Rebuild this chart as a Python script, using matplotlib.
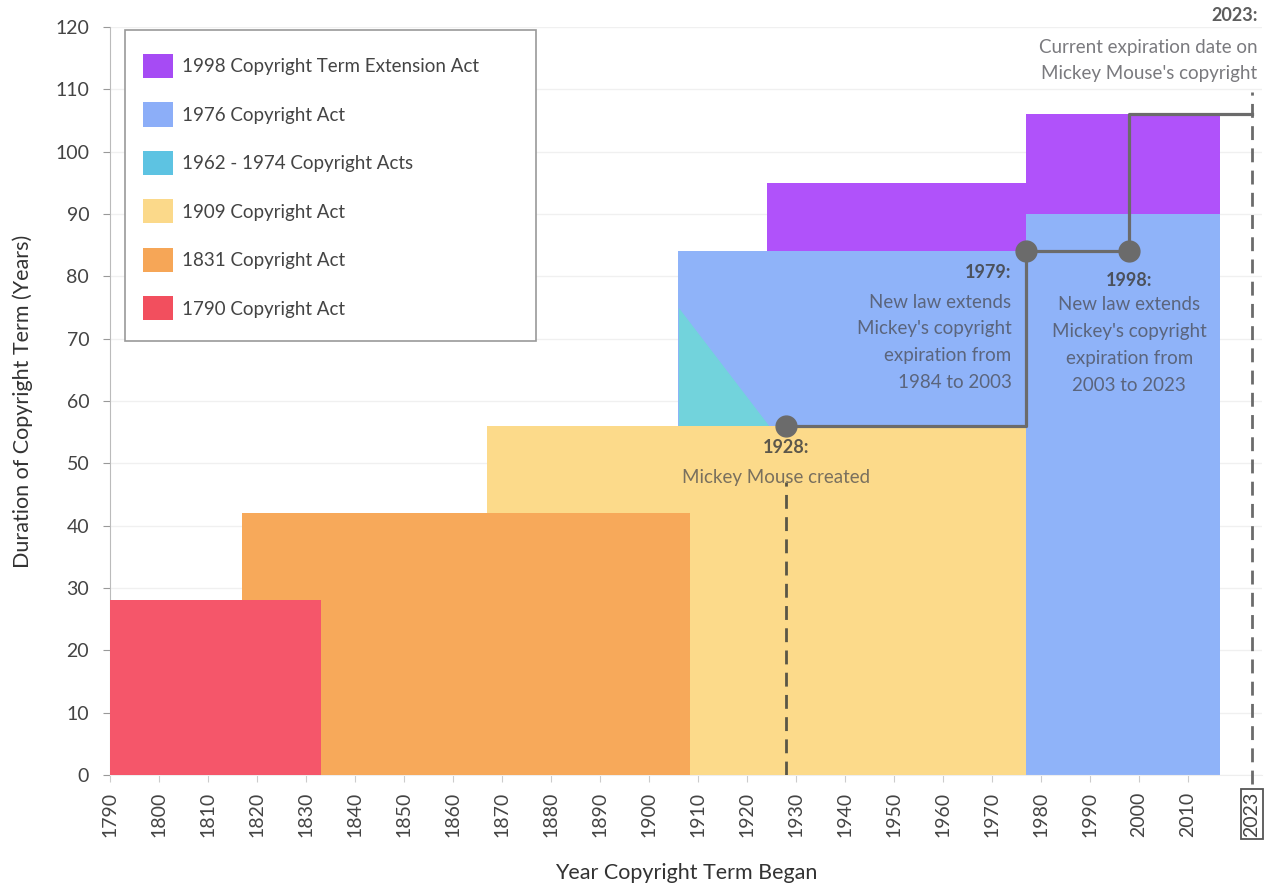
import matplotlib
matplotlib.use("Agg")
import matplotlib.pyplot as plt
from matplotlib.patches import Patch, Rectangle

plt.rcParams["font.family"] = ["Lato", "DejaVu Sans"]

# ------------------------------------------------------------
# Copyright terms by act (year edges and term length in years)
# ------------------------------------------------------------
red_edges = [1790, 1833]
red_terms = [28]

orange_edges = [1817, 1908.4]
orange_terms = [42]

yellow_edges = [1867, 1977]
yellow_terms = [56]

teal_years = [1906, 1924.5]
teal_terms = [75, 56]

blue_edges = [1906, 1977, 2016.5]
blue_terms = [84, 90]

purple_edges = [1924, 1977, 2016.5]
purple_terms = [95, 106]

# Mickey Mouse path
mickey_years = [1928, 1977, 1977, 1998, 1998, 2023]
mickey_terms = [56, 56, 84, 84, 106, 106]
dot_years = [1928, 1977, 1998]
dot_terms = [56, 84, 84]

legend_labels = [
    "1998 Copyright Term Extension Act",
    "1976 Copyright Act",
    "1962 - 1974 Copyright Acts",
    "1909 Copyright Act",
    "1831 Copyright Act",
    "1790 Copyright Act",
]
legend_colors = ["#A64BF4", "#8CAEF8", "#5DC3E2", "#FBD98A", "#F6A657", "#F24F5E"]

tick_years = list(range(1790, 2011, 10)) + [2023]

# colours used in the plot area
c_purple = "#B052FA"
c_blue = "#8FB3F9"
c_teal = "#72D3DC"
c_yellow = "#FCDA8A"
c_orange = "#F7A95A"
c_red = "#F5566A"
c_line = "#6B6B6B"
c_text = (0.28, 0.28, 0.30, 0.72)
c_bold = (0.25, 0.25, 0.25, 0.85)

fig = plt.figure(figsize=(12.78, 8.88), dpi=100)
ax = fig.add_axes([0.0861, 0.1273, 0.901, 0.8423])

ax.stairs(purple_terms, purple_edges, fill=True, color=c_purple, zorder=1)
ax.stairs(blue_terms, blue_edges, fill=True, color=c_blue, zorder=2)
ax.fill_between(teal_years, 56, teal_terms, color=c_teal, lw=0, zorder=3)
ax.stairs(yellow_terms, yellow_edges, fill=True, color=c_yellow, zorder=4)
ax.stairs(orange_terms, orange_edges, fill=True, color=c_orange, zorder=5)
ax.stairs(red_terms, red_edges, fill=True, color=c_red, zorder=6)

# Mickey line
ax.plot(mickey_years, mickey_terms, color=c_line, lw=2.3, zorder=8)
ax.plot(dot_years, dot_terms, "o", color=c_line, ms=15, zorder=9)
ax.plot([1928, 1928], [0, 47], color="#5a5646", lw=2, ls=(0, (5, 3)), zorder=8)
ax.plot([2023, 2023], [-1.5, 109.5], color=c_line, lw=2, ls=(0, (5, 3)),
        zorder=8, clip_on=False)

# annotations
ax.text(1928, 52.6, "1928:", ha="center", va="center", fontsize=13,
        fontweight="bold", color=c_bold, zorder=10)
ax.text(1926, 47.8, "Mickey Mouse created", ha="center", va="center",
        fontsize=13.5, color=c_text, zorder=10)

ax.text(1974, 80.6, "1979:", ha="right", va="center", fontsize=13,
        fontweight="bold", color=c_bold, zorder=10)
ax.text(1974, 69.4, "New law extends\nMickey's copyright\nexpiration from\n1984 to 2003",
        ha="right", va="center", fontsize=13.5, color=c_text,
        linespacing=1.7, zorder=10)

ax.text(1998, 79.4, "1998:", ha="center", va="center", fontsize=13,
        fontweight="bold", color=c_bold, zorder=10)
ax.text(1998, 69.0, "New law extends\nMickey's copyright\nexpiration from\n2003 to 2023",
        ha="center", va="center", fontsize=13.5, color=c_text,
        linespacing=1.7, zorder=10)

ax.text(2024.2, 121.9, "2023:", ha="right", va="center", fontsize=13,
        fontweight="bold", color=c_bold, clip_on=False, zorder=10)
ax.text(2024.2, 114.6, "Current expiration date on\nMickey Mouse's copyright",
        ha="right", va="center", fontsize=13.5, color=c_text,
        linespacing=1.65, clip_on=False, zorder=10)

# axes
ax.set_xlim(1790, 2025)
ax.set_ylim(0, 120)
ax.set_yticks(range(0, 121, 10))
ax.set_xticks(tick_years)
ax.set_xticklabels([str(y) for y in tick_years], rotation=90, fontsize=14,
                   color="#444444")
ax.tick_params(axis="y", labelsize=14, colors="#999999", labelcolor="#444444",
               length=5, pad=10)
ax.tick_params(axis="x", colors="#cccccc", labelcolor="#444444", length=5,
               pad=7)
for lbl in ax.get_xticklabels():
    if lbl.get_text() == "2023":
        lbl.set_bbox(dict(facecolor="white", edgecolor="#555555", lw=1.3,
                          boxstyle="square,pad=0.12"))

ax.grid(axis="y", color="#f0f0f0", lw=1)
ax.set_axisbelow(True)
for s in ["top", "right"]:
    ax.spines[s].set_visible(False)
ax.spines["left"].set_color("#bbbbbb")
ax.spines["bottom"].set_color("#eeeeee")

ax.set_ylabel("Duration of Copyright Term (Years)", fontsize=15.5,
              color="#333333", labelpad=16)
ax.set_xlabel("Year Copyright Term Began", fontsize=15.5, color="#333333",
              labelpad=19)

# legend with a wide frame drawn separately
ax.add_patch(Rectangle((125 / 1278, 1 - 341 / 888), 411 / 1278, 311 / 888,
                       transform=fig.transFigure, facecolor="white",
                       edgecolor="#999999", lw=1.2, zorder=15, clip_on=False))
handles = [Patch(facecolor=c, edgecolor="none") for c in legend_colors]
leg = ax.legend(handles, legend_labels, loc="upper left",
                bbox_to_anchor=(143 / 1278, 1 - 54 / 888),
                bbox_transform=fig.transFigure, fontsize=13.5, frameon=False,
                handlelength=1.6, handleheight=1.6, labelspacing=1.3,
                borderpad=0, borderaxespad=0, handletextpad=0.5)
leg.set_zorder(20)
for t in leg.get_texts():
    t.set_color("#444444")

fig.savefig("out.png", dpi=100)
